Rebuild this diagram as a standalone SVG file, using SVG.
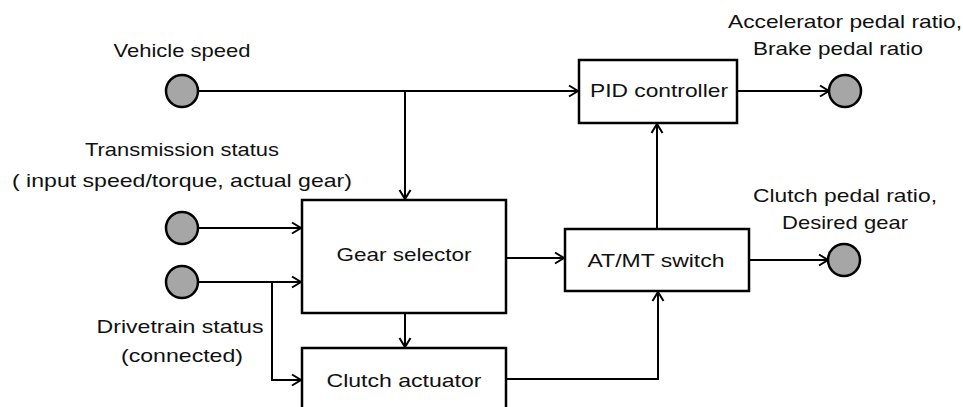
<svg xmlns="http://www.w3.org/2000/svg" width="963" height="407" viewBox="0 0 963 407">
<defs>
<style>
.box{fill:#fff;stroke:#000;stroke-width:2.5}
.port{fill:#a6a6a6;stroke:#000;stroke-width:2.5}
.wire{fill:none;stroke:#000;stroke-width:2}
text{font-family:"Liberation Sans",Arial,sans-serif;font-size:19px;fill:#111;text-anchor:middle}
</style>
<marker id="ah" markerUnits="userSpaceOnUse" markerWidth="14" markerHeight="14" viewBox="0 0 14 14" refX="12" refY="7" orient="auto">
<path d="M3,1.5 L12,7 L3,12.5" fill="none" stroke="#000" stroke-width="2"/>
</marker>
</defs>
<rect width="963" height="407" fill="#fff"/>
<g id="connectors">
<path class="wire" d="M198,91 H578" marker-end="url(#ah)"/>
<path class="wire" d="M405,91 V199" marker-end="url(#ah)"/>
<path class="wire" d="M737,91 H829" marker-end="url(#ah)"/>
<path class="wire" d="M657,229 V124" marker-end="url(#ah)"/>
<path class="wire" d="M198,228 H301" marker-end="url(#ah)"/>
<path class="wire" d="M198,282 H301" marker-end="url(#ah)"/>
<path class="wire" d="M272,282 V380 H301" marker-end="url(#ah)"/>
<path class="wire" d="M405,313 V347" marker-end="url(#ah)"/>
<path class="wire" d="M506,258 H564" marker-end="url(#ah)"/>
<path class="wire" d="M749,260 H828" marker-end="url(#ah)"/>
<path class="wire" d="M506,379 H658 V292" marker-end="url(#ah)"/>
</g>
<g id="vehicle-speed">
<circle class="port" cx="182" cy="91" r="16"/>
<text x="182" y="57" textLength="137" lengthAdjust="spacingAndGlyphs">Vehicle speed</text>
</g>
<g id="transmission-status">
<circle class="port" cx="182" cy="228" r="16"/>
<text x="182" y="156" textLength="194" lengthAdjust="spacingAndGlyphs">Transmission status</text>
<text x="182" y="187" textLength="340" lengthAdjust="spacingAndGlyphs">( input speed/torque, actual gear)</text>
</g>
<g id="drivetrain-status">
<circle class="port" cx="182" cy="282" r="16"/>
<text x="180" y="333" textLength="167" lengthAdjust="spacingAndGlyphs">Drivetrain status</text>
<text x="182" y="362" textLength="122" lengthAdjust="spacingAndGlyphs">(connected)</text>
</g>
<g id="pid-controller">
<rect class="box" x="579" y="60" width="158" height="63"/>
<text x="659" y="97" textLength="138" lengthAdjust="spacingAndGlyphs">PID controller</text>
</g>
<g id="pedal-output">
<circle class="port" cx="845" cy="91" r="16"/>
<text x="845" y="28" textLength="234" lengthAdjust="spacingAndGlyphs">Accelerator pedal ratio,</text>
<text x="838" y="55" textLength="170" lengthAdjust="spacingAndGlyphs">Brake pedal ratio</text>
</g>
<g id="gear-selector">
<rect class="box" x="302" y="200" width="204" height="113"/>
<text x="404" y="261" textLength="135" lengthAdjust="spacingAndGlyphs">Gear selector</text>
</g>
<g id="atmt-switch">
<rect class="box" x="565" y="229" width="184" height="62"/>
<text x="656" y="267" textLength="137" lengthAdjust="spacingAndGlyphs">AT/MT switch</text>
</g>
<g id="clutch-output">
<circle class="port" cx="844" cy="260" r="16"/>
<text x="845" y="202" textLength="184" lengthAdjust="spacingAndGlyphs">Clutch pedal ratio,</text>
<text x="845" y="229" textLength="126" lengthAdjust="spacingAndGlyphs">Desired gear</text>
</g>
<g id="clutch-actuator">
<rect class="box" x="302" y="348" width="204" height="80"/>
<text x="404" y="387" textLength="155" lengthAdjust="spacingAndGlyphs">Clutch actuator</text>
</g>
</svg>
